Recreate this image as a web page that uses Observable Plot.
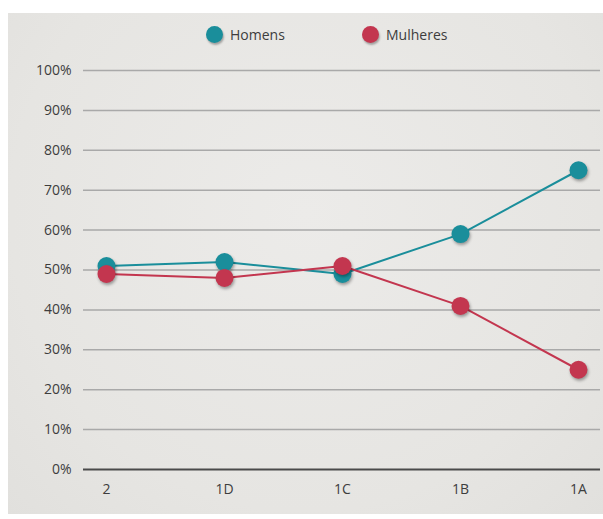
<!DOCTYPE html>
<html>
<head>
<meta charset="utf-8">
<script src="https://cdn.jsdelivr.net/npm/d3@7"></script>
<script src="https://cdn.jsdelivr.net/npm/@observablehq/plot@0.6"></script>
<style>
  html, body { margin: 0; padding: 0; background: #ffffff; }
  #panel {
    position: absolute; left: 8px; top: 13px; width: 595px; height: 501px;
    background: radial-gradient(ellipse at 50% 40%, #ecebe9 0%, #e6e5e2 70%, #e1e0dd 100%);
    font-family: "Open Sans", "Noto Sans", sans-serif;
    overflow: hidden;
  }
  #legend { position: relative; height: 45px; }
  .lg { position: absolute; top: 12px; display: flex; align-items: center; font-size: 14px; font-weight: 500; color: #3d3d3d; }
  .sw { width: 17px; height: 17px; border-radius: 50%; margin-right: 7px; box-shadow: 1px 2px 2px rgba(0,0,0,0.3); }
  svg g[aria-label="dot"] circle { filter: drop-shadow(1px 2px 1.5px rgba(0,0,0,0.35)); }
</style>
</head>
<body>
<div id="panel">
  <div id="legend"></div>
  <div id="chart"></div>
</div>
<script>
const categories = ["2", "1D", "1C", "1B", "1A"];
const homens = [51, 52, 49, 59, 75];
const mulheres = [49, 48, 51, 41, 25];
const yTicks = [0, 10, 20, 30, 40, 50, 60, 70, 80, 90, 100];
const seriesNames = ["Homens", "Mulheres"];
const seriesColors = ["#1a8e9b", "#c3364f"];

const legend = document.getElementById("legend");
const legendX = [198, 354];
seriesNames.forEach((name, i) => {
  const el = document.createElement("div");
  el.className = "lg";
  el.style.left = legendX[i] + "px";
  el.innerHTML = `<span class="sw" style="background:${seriesColors[i]}"></span>${name}`;
  legend.appendChild(el);
});

const dataH = categories.map((c, i) => ({cat: c, v: homens[i], s: "Homens"}));
const dataM = categories.map((c, i) => ({cat: c, v: mulheres[i], s: "Mulheres"}));

const chart = Plot.plot({
  width: 595,
  height: 456,
  marginTop: 12,
  marginBottom: 45,
  marginLeft: 75,
  marginRight: 3,
  style: { background: "transparent", fontFamily: "'Open Sans', 'Noto Sans', sans-serif", fontSize: "14px", fontWeight: 500, color: "#3d3d3d" },
  x: { type: "point", domain: categories, padding: 0.19, label: null, tickSize: 0, tickPadding: 15 },
  y: { domain: [0, 100], ticks: yTicks, label: null, tickSize: 0, tickPadding: 12, tickFormat: d => d + "%" },
  marks: [
    Plot.ruleY(yTicks.filter(d => d > 0), { stroke: "#a9a9a9", strokeWidth: 1.5 }),
    Plot.ruleY([0], { stroke: "#4a4a4a", strokeWidth: 2 }),
    Plot.line(dataH, { x: "cat", y: "v", stroke: seriesColors[0], strokeWidth: 2 }),
    Plot.line(dataM, { x: "cat", y: "v", stroke: seriesColors[1], strokeWidth: 2 }),
    Plot.dot(dataH, { x: "cat", y: "v", r: 9, fill: seriesColors[0] }),
    Plot.dot(dataM, { x: "cat", y: "v", r: 9, fill: seriesColors[1] })
  ]
});
document.getElementById("chart").appendChild(chart);
</script>
</body>
</html>
